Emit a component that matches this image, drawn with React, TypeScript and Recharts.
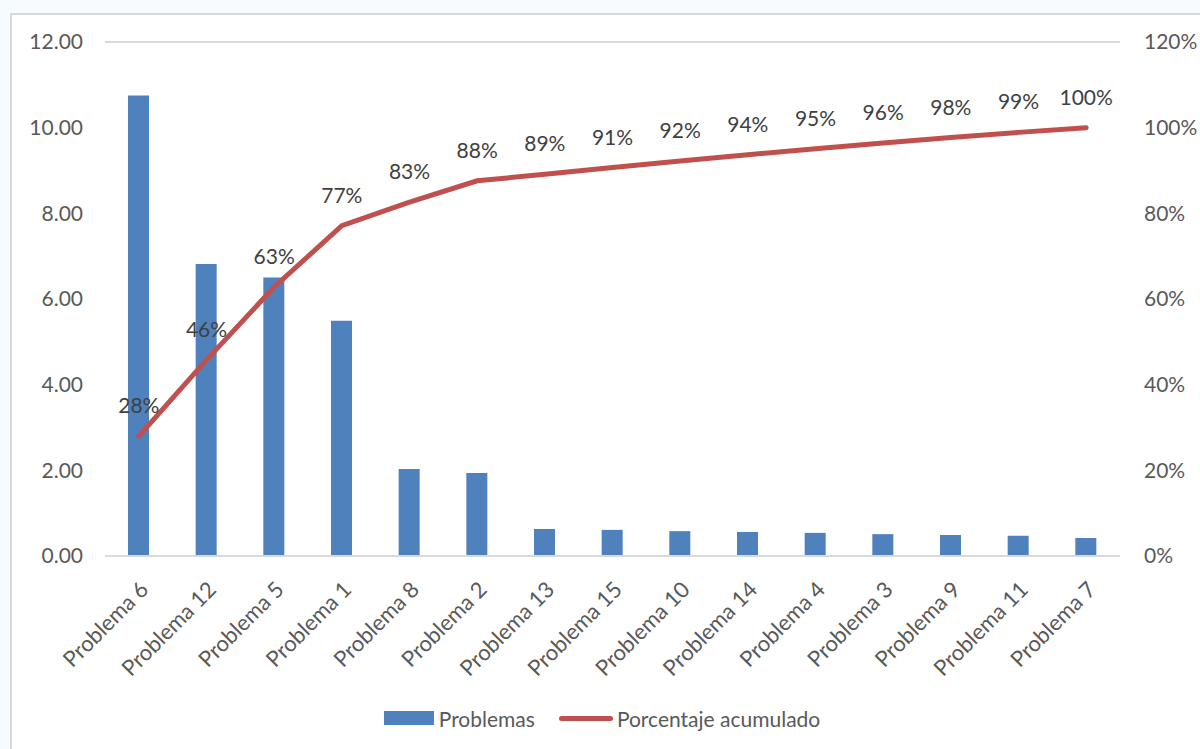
import React from "react";
import {
  ComposedChart,
  Bar,
  Line,
  XAxis,
  YAxis,
  CartesianGrid,
  Legend,
  LabelList,
} from "recharts";

// ---- data -------------------------------------------------------------------

const categories = [
  "Problema 6",
  "Problema 12",
  "Problema 5",
  "Problema 1",
  "Problema 8",
  "Problema 2",
  "Problema 13",
  "Problema 15",
  "Problema 10",
  "Problema 14",
  "Problema 4",
  "Problema 3",
  "Problema 9",
  "Problema 11",
  "Problema 7",
];

const problemas = [
  10.75, 6.82, 6.5, 5.49, 2.03, 1.94, 0.63, 0.61, 0.58, 0.56, 0.54, 0.51, 0.49, 0.47, 0.42,
];

const acumulado = [
  28.0, 45.8, 62.8, 77.1, 82.6, 87.6, 89.1, 90.7, 92.2, 93.7, 95.1, 96.4, 97.7, 98.9, 100,
];

const leftTicks = [0, 2, 4, 6, 8, 10, 12];
const rightTicks = [0, 20, 40, 60, 80, 100, 120];

// ---- theme ------------------------------------------------------------------

const C = {
  bar: "#4f81bd",
  line: "#c0504d",
  grid: "#d9d9d9",
  text: "#595959",
  label: "#404040",
  pageBg: "#f6fbfd",
};

const FONT = "Lato, 'Open Sans', sans-serif";
const axisTick = { fill: C.text, fontSize: 21, fontFamily: FONT };

const data = categories.map((name, i) => ({
  name,
  problemas: problemas[i],
  acumulado: acumulado[i],
}));

function LegendBox() {
  const item = { display: "flex", alignItems: "center", color: C.text, fontSize: 21, fontFamily: FONT };
  return (
    <div style={{ display: "flex", justifyContent: "center", gap: 24, height: 24, paddingLeft: 4 }}>
      <div style={item}>
        <span style={{ width: 50, height: 14, background: C.bar, display: "inline-block", marginRight: 5 }} />
        Problemas
      </div>
      <div style={item}>
        <span
          style={{
            width: 54,
            height: 5,
            borderRadius: 3,
            background: C.line,
            display: "inline-block",
            marginRight: 4,
          }}
        />
        Porcentaje acumulado
      </div>
    </div>
  );
}

export default function App() {
  return (
    <div style={{ position: "absolute", left: 0, top: 0, width: 1200, height: 749, background: C.pageBg, overflow: "hidden" }}>
      <div
        style={{
          position: "absolute",
          left: 10,
          top: 13,
          width: 1200,
          height: 760,
          background: "#fff",
          border: `2px solid ${C.grid}`,
        }}
      />
      <div style={{ position: "absolute", left: 0, top: 0 }}>
        <ComposedChart
          width={1200}
          height={749}
          data={data}
          margin={{ top: 42, right: 0, left: 0, bottom: 19 }}
        >
          <CartesianGrid stroke={C.grid} strokeWidth={2} vertical={false} />
          <XAxis
            dataKey="name"
            interval={0}
            tick={{ ...axisTick, fontSize: 22, angle: -45, textAnchor: "end" }}
            tickLine={false}
            axisLine={{ stroke: C.grid, strokeWidth: 2 }}
            tickMargin={18}
            height={150}
          />
          <YAxis
            yAxisId="left"
            domain={[0, 12]}
            ticks={leftTicks}
            tickFormatter={(v: number) => v.toFixed(2)}
            tick={axisTick}
            tickLine={false}
            axisLine={false}
            tickMargin={16}
            width={105}
          />
          <YAxis
            yAxisId="right"
            orientation="right"
            domain={[0, 120]}
            ticks={rightTicks}
            tickFormatter={(v: number) => `${v}%`}
            tick={{ ...axisTick, textAnchor: "start" }}
            tickLine={false}
            axisLine={false}
            tickMargin={18}
            width={80}
          />
          <Legend verticalAlign="bottom" content={<LegendBox />} />
          <Bar
            yAxisId="left"
            dataKey="problemas"
            name="Problemas"
            fill={C.bar}
            barSize={21}
            isAnimationActive={false}
          />
          <Line
            yAxisId="right"
            type="linear"
            dataKey="acumulado"
            name="Porcentaje acumulado"
            stroke={C.line}
            strokeWidth={5}
            strokeLinecap="round"
            dot={false}
            activeDot={false}
            isAnimationActive={false}
          >
            <LabelList
              dataKey="acumulado"
              position="top"
              offset={23}
              formatter={(v: number) => `${Math.round(v)}%`}
              style={{ fill: C.label, fontSize: 21, fontFamily: FONT }}
            />
          </Line>
        </ComposedChart>
      </div>
    </div>
  );
}
